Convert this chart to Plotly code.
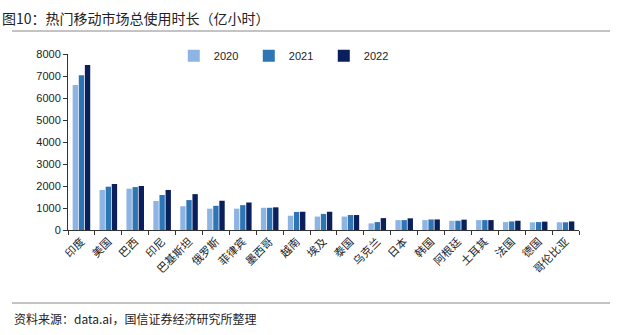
import plotly.graph_objects as go

categories = ["印度", "美国", "巴西", "印尼", "巴基斯坦", "俄罗斯", "菲律宾", "墨西哥", "越南", "埃及",
              "泰国", "乌克兰", "日本", "韩国", "阿根廷", "土耳其", "法国", "德国", "哥伦比亚"]
v2020 = [6590, 1820, 1880, 1320, 1080, 970, 970, 1010, 650, 610, 610, 300, 450, 450, 420, 450, 360, 350, 350]
v2021 = [7030, 1970, 1950, 1590, 1360, 1100, 1130, 1010, 820, 730, 680, 360, 450, 480, 420, 450, 390, 360, 350]
v2022 = [7500, 2090, 2000, 1820, 1630, 1330, 1250, 1030, 830, 830, 680, 540, 530, 480, 470, 450, 420, 380, 390]
years = ["2020", "2021", "2022"]
colors = ["#8EB4E3", "#2E75B6", "#0A1F5C"]

fig = go.Figure()
for name, vals, c in zip(years, [v2020, v2021, v2022], colors):
    fig.add_trace(go.Bar(x=categories, y=vals, name=name, marker=dict(color=c, line=dict(width=0))))

cjk = "Noto Sans CJK SC"
fig.update_layout(
    width=624, height=335,
    margin=dict(l=68, r=45, t=54, b=105),
    paper_bgcolor="white", plot_bgcolor="white",
    barmode="group", bargap=0.32, bargroupgap=0.12,
    font=dict(family="Liberation Sans, Arial", size=11, color="#222"),
    legend=dict(orientation="h", x=0.207, y=0.99, xanchor="left", yanchor="middle",
                font=dict(size=11, family="Liberation Sans, Arial"),
                itemwidth=30, entrywidth=30, bgcolor="rgba(0,0,0,0)"),
    showlegend=True,
)
fig.update_yaxes(range=[0, 8000], dtick=1000, showgrid=False, showline=True, linecolor="#333",
                 linewidth=1, ticks="outside", ticklen=4, tickcolor="#333", zeroline=False,
                 tickfont=dict(size=11))
fig.update_xaxes(showgrid=False, showline=True, linecolor="#333", linewidth=1, ticks="outside",
                 ticklen=4, tickcolor="#333", tickson="boundaries", tickangle=-45,
                 tickfont=dict(family=cjk, size=11, color="#222"))

fig.add_annotation(text="图10：热门移动市场总使用时长（亿小时）", xref="paper", yref="paper",
                   x=-68/511, y=1 + (54-18)/176, xanchor="left", yanchor="middle", showarrow=False,
                   font=dict(family=cjk, size=14, color="#222"))
fig.add_annotation(text="资料来源：data.ai，国信证券经济研究所整理", xref="paper", yref="paper",
                   x=-56/511, y=-(318-230)/176, xanchor="left", yanchor="middle", showarrow=False,
                   font=dict(family=cjk, size=12, color="#222"))
fig.add_shape(type="line", xref="paper", yref="paper", x0=-56/511, x1=(610-68)/511,
              y0=1 + (54-31)/176, y1=1 + (54-31)/176, line=dict(color="#888", width=1))
fig.add_shape(type="line", xref="paper", yref="paper", x0=-56/511, x1=(610-68)/511,
              y0=-(303-230)/176, y1=-(303-230)/176, line=dict(color="#888", width=1))

fig.write_html("out.html")
